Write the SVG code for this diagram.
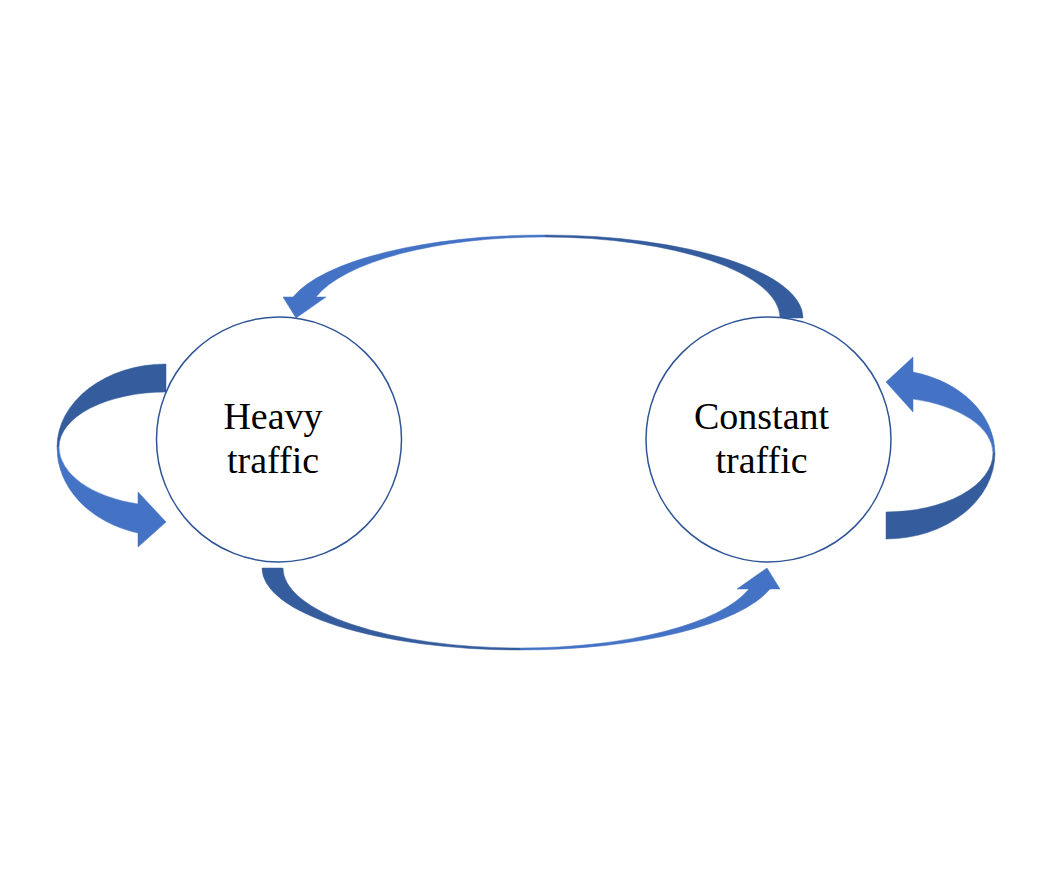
<svg xmlns="http://www.w3.org/2000/svg" width="1062" height="880" viewBox="0 0 1062 880">
<style>
.light{fill:#4472C4;stroke:#4472C4;stroke-width:0.5}
.dark{fill:#355C9D;stroke:#355C9D;stroke-width:0.5}
.node{fill:#FFFFFF;stroke:#2F5597;stroke-width:1.5}
.lbl{font-family:"Liberation Serif","Times New Roman",serif;font-size:38px;fill:#000000;text-anchor:middle}
</style>
<rect width="1062" height="880" fill="#FFFFFF"/>
<g id="connectors">
  <g id="self-heavy">
    <path class="dark" d="M166,364 A109,83 0 0 0 57,447 L59,447 A107,55 0 0 1 166,392 Z"/>
    <path class="light" d="M57,447 A109,88 0 0 0 138,533 L138,547 L166,522 L138,492 L138,504 A107,59 0 0 1 59,447 Z"/>
  </g>
  <g id="self-constant">
    <path class="light" d="M995,453 A109,84 0 0 0 913,372 L913,357 L886,382 L913,412 L913,399 A107,56 0 0 1 993,453 Z"/>
    <path class="dark" d="M995,453 A109,86 0 0 1 886,539 L886,512 A107,59 0 0 0 993,453 Z"/>
  </g>
  <g id="constant-to-heavy">
    <path class="dark" d="M803,318 A258,83 0 0 0 545,235 L545,237 A235,81 0 0 1 780,318 Z"/>
    <path class="light" d="M545,235 A259,83 0 0 0 293,297 L283,297 L296,318 L326,297 L316,297 A236,81 0 0 1 545,237 Z"/>
  </g>
  <g id="heavy-to-constant">
    <path class="dark" d="M262,568 A258,82 0 0 0 520,650 L520,648 A237,80 0 0 1 283,568 Z"/>
    <path class="light" d="M520,650 A258,82 0 0 0 770,589 L780,589 L767,568 L737,589 L749,589 A237,80 0 0 1 520,648 Z"/>
  </g>
</g>
<g id="heavy">
  <circle class="node" cx="279" cy="439.5" r="122.5"/>
  <text class="lbl" x="273" y="429">Heavy</text>
  <text class="lbl" x="273" y="473">traffic</text>
</g>
<g id="constant">
  <circle class="node" cx="768.5" cy="439.5" r="122.5"/>
  <text class="lbl" x="761.5" y="429">Constant</text>
  <text class="lbl" x="761.5" y="473">traffic</text>
</g>
</svg>
